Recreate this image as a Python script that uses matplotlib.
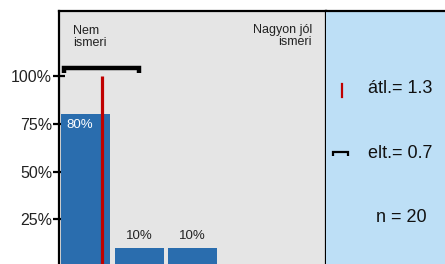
import matplotlib
matplotlib.use("Agg")
import matplotlib.pyplot as plt

plt.rcParams['font.family'] = ['Liberation Sans', 'DejaVu Sans']

categories = [1, 2, 3, 4, 5]
percents = [80, 10, 10, 0, 0]
mean_val = 1.3
std_val = 0.7
n_val = 20
ytick_vals = [25, 50, 75, 100]
ytick_labels = ['25%', '50%', '75%', '100%']
left_label = 'Nem\nismeri'
right_label = 'Nagyon jól\nismeri'

BAR = '#2A6DAE'
RED = '#C00000'
GRAY = '#E5E5E5'
LIGHTBLUE = '#BDDFF6'

fig = plt.figure(figsize=(4.45, 2.64), dpi=100)
ax = fig.add_axes([59 / 445, 0, 267 / 445, 253 / 264])
ax2 = fig.add_axes([326 / 445, 0, 119 / 445, 253 / 264], sharey=ax)

ax.set_facecolor(GRAY)
ax2.set_facecolor(LIGHTBLUE)

bars = ax.bar(categories, percents, width=0.92, color=BAR, zorder=2)
for c, p in zip(categories, percents):
    if p == 0:
        continue
    if p > 50:
        ax.text(c - 0.12, p - 2.5, f'{p}%', ha='center', va='top', color='white', fontsize=9.5, zorder=3)
    else:
        ax.text(c, p + 3, f'{p}%', ha='center', va='bottom', color='#222222', fontsize=9.5, zorder=3)

# mean line
ax.plot([mean_val, mean_val], [0, 100], color=RED, lw=2.3, zorder=4, solid_capstyle='butt')
# std bracket
lo, hi = mean_val - std_val, mean_val + std_val
ax.plot([lo, lo, hi, hi], [101.5, 104.2, 104.2, 101.5], color='black', lw=3.2, zorder=4,
        solid_joinstyle='miter', solid_capstyle='butt')

ax.text(0.76, 126.5, left_label, ha='left', va='top', fontsize=9, color='#222222', linespacing=0.95)
ax.text(5.24, 127, right_label, ha='right', va='top', fontsize=9, color='#222222', linespacing=0.95)

ax.set_xlim(0.5, 5.5)
ax.set_ylim(1.6, 134)
ax.set_xticks([])
ax.set_yticks(ytick_vals)
ax.set_yticklabels(ytick_labels, fontsize=11.5, color='#222222')
ax.tick_params(axis='y', direction='inout', length=8, width=1.6, pad=1)
for s in ['bottom']:
    ax.spines[s].set_visible(False)
for s in ['left', 'top', 'right']:
    ax.spines[s].set_linewidth(1.6)

ax2.set_xlim(0, 1)
ax2.tick_params(left=False, labelleft=False, bottom=False, labelbottom=False)
ax2.spines['bottom'].set_visible(False)
ax2.spines['right'].set_visible(False)
ax2.spines['left'].set_visible(False)
ax2.spines['top'].set_linewidth(1.6)

ax2.plot([0.134, 0.134], [89, 96], color=RED, lw=1.6)
ax2.plot([0.06, 0.06, 0.185, 0.185], [58.3, 60, 60, 58.3], color='black', lw=1.6,
         solid_joinstyle='miter', solid_capstyle='butt')
ax2.text(0.62, 91, f'átl.= {mean_val}', ha='center', va='baseline', fontsize=13, color='#111111')
ax2.text(0.62, 57, f'elt.= {std_val}', ha='center', va='baseline', fontsize=13, color='#111111')
ax2.text(0.63, 23.5, f'n = {n_val}', ha='center', va='baseline', fontsize=13, color='#111111')

fig.savefig('out.png', dpi=100)
